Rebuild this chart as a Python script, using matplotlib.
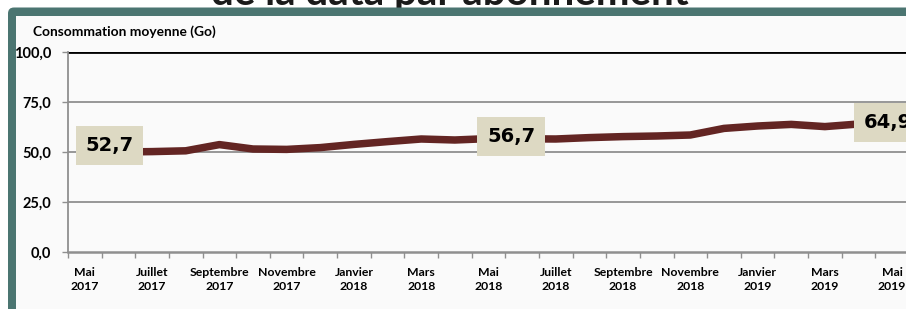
import matplotlib
matplotlib.use("Agg")
import matplotlib.pyplot as plt
from matplotlib.patches import FancyBboxPatch, Rectangle
from matplotlib.ticker import FixedLocator, FuncFormatter

plt.rcParams['font.family'] = ['Lato', 'DejaVu Sans']

# monthly average data consumption per subscription (Go), Mai 2017 -> Mai 2019
months = ["Mai 2017", "Juin 2017", "Juillet 2017", "Août 2017", "Septembre 2017",
          "Octobre 2017", "Novembre 2017", "Décembre 2017", "Janvier 2018",
          "Février 2018", "Mars 2018", "Avril 2018", "Mai 2018", "Juin 2018",
          "Juillet 2018", "Août 2018", "Septembre 2018", "Octobre 2018",
          "Novembre 2018", "Décembre 2018", "Janvier 2019", "Février 2019",
          "Mars 2019", "Avril 2019", "Mai 2019"]
conso = [52.7, 50.0, 50.2, 50.6, 53.7, 51.5, 51.3, 52.2, 53.8, 55.2, 56.5, 56.0,
         56.7, 56.6, 56.5, 57.2, 57.7, 58.0, 58.5, 61.8, 63.0, 63.8, 62.7, 64.0, 64.9]
labelled = [0, 12, 24]
yticks = [0, 25, 50, 75, 100]
title_txt = "de la data par abonnement"
ytitle = "Consommation moyenne (Go)"

W, H = 906, 309
fig = plt.figure(figsize=(W / 100, H / 100), dpi=100)
fig.patch.set_facecolor("white")

# background: slide frame, drawn in pixel coordinates
bg = fig.add_axes([0, 0, 1, 1], zorder=-5)
bg.set_xlim(0, W)
bg.set_ylim(H, 0)
bg.axis("off")
bg.text(450, 4.5, title_txt, ha="center", va="baseline", fontsize=29,
        fontweight="bold", color="#1a1a1a", zorder=1)
frame = FancyBboxPatch((8, 7.5), 1000, 400, boxstyle="round,pad=0,rounding_size=6",
                       facecolor="#4b7571", edgecolor="none", zorder=2)
bg.add_patch(frame)
bg.add_patch(Rectangle((16, 16), 1000, 400, facecolor="#fafafa",
                       edgecolor="none", zorder=3))
bg.text(33, 32, ytitle, ha="left", va="center", fontsize=9.9,
        fontweight="bold", color="black", zorder=4)

# main plot
ax = fig.add_axes([68 / W, 57 / H, (909 - 68) / W, 200 / H])
ax.patch.set_alpha(0)
x = list(range(len(conso)))
ax.plot(x, conso, color="#632523", lw=5.4, solid_joinstyle="round",
        solid_capstyle="butt", zorder=3)

ax.set_xlim(-0.5, len(conso) - 0.5)
ax.set_ylim(0, 100)

for v in yticks[1:-1]:
    ax.axhline(v, color="#8f8f8f", lw=1.3, zorder=1)
ax.axhline(100, color="black", lw=2, zorder=2)

for s in ["top", "right"]:
    ax.spines[s].set_visible(False)
ax.spines["left"].set_color("#8f8f8f")
ax.spines["left"].set_linewidth(1.3)
ax.spines["bottom"].set_color("#8f8f8f")
ax.spines["bottom"].set_linewidth(1.8)

ax.set_yticks(yticks)
ax.yaxis.set_major_formatter(FuncFormatter(lambda v, p: f"{v:.1f}".replace(".", ",")))
ax.tick_params(axis="y", length=4, width=1, color="#8f8f8f", pad=8)
for t in ax.get_yticklabels():
    t.set_fontweight("bold")
    t.set_fontsize(10.5)

tick_idx = list(range(0, len(months), 2))
ax.set_xticks(tick_idx)
ax.set_xticklabels([months[i].replace(" ", "\n") for i in tick_idx],
                   fontsize=8.8, fontweight="bold", linespacing=1.25)
ax.tick_params(axis="x", which="major", length=0, pad=11)
ax.xaxis.set_minor_locator(FixedLocator([i - 0.5 for i in range(len(months) + 1)]))
ax.tick_params(axis="x", which="minor", length=4, width=1, color="#8f8f8f")

# data labels
offsets = {0: (0.74, 0.55), 12: (0.67, 1.15), 24: (-0.13, -0.05)}
for i in labelled:
    dx, dy = offsets[i]
    ax.text(i + dx, conso[i] + dy, f"{conso[i]:.1f}".replace(".", ","),
            ha="center", va="center", fontsize=14, fontweight="bold",
            family="DejaVu Sans", color="black", zorder=5, clip_on=False,
            bbox=dict(boxstyle="square,pad=0.5", facecolor="#ddd9c3",
                      edgecolor="none"))

fig.savefig("out.png", dpi=100)
